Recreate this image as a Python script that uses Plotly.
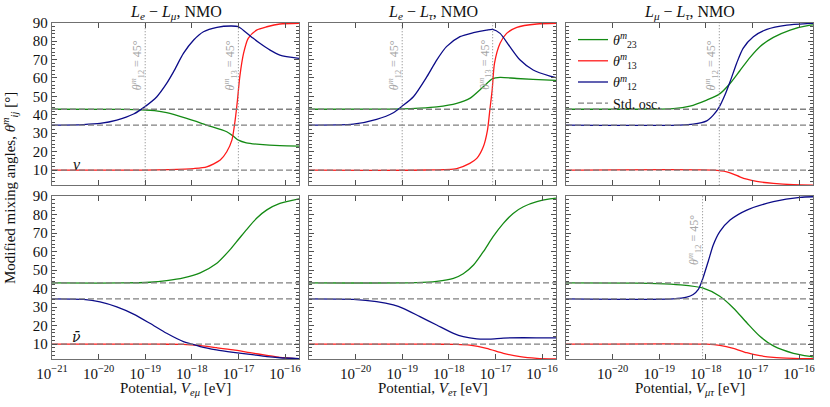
import plotly.graph_objects as go

# ---------------- data (log10 of potential in eV, angles in degrees) ----------------
std_t23 = 43.0
std_t12 = 34.4
std_t13 = 9.9

# top-left: L_e - L_mu, neutrinos
emu_nu_t23_lv = [-21, -19.5, -19.0, -18.8, -18.54, -18.11, -17.68, -17.25, -17.1, -17.0, -16.83, -16.54, -16.11, -15.7]
emu_nu_t23 = [43.0, 42.9, 42.6, 42.2, 41.1, 38.0, 34.4, 30.8, 28.2, 26.2, 24.8, 23.9, 23.2, 23.0]
emu_nu_t13_lv = [-21, -19.0, -18.5, -17.96, -17.68, -17.39, -17.25, -17.14, -17.07, -17.02, -16.97, -16.89, -16.79, -16.61, -16.39, -16.11, -15.7]
emu_nu_t13 = [9.9, 9.9, 10.2, 10.8, 11.7, 15.4, 19.9, 26.2, 37.1, 48.0, 60.7, 73.3, 81.5, 86.0, 87.8, 89.3, 89.7]
emu_nu_t12_lv = [-21, -20.33, -19.97, -19.61, -19.25, -18.99, -18.75, -18.54, -18.39, -18.18, -17.96, -17.75, -17.46, -17.15, -17.0, -16.85, -16.68, -16.54, -16.32, -16.11, -15.7]
emu_nu_t12 = [34.4, 34.7, 35.3, 37.1, 40.4, 44.7, 49.8, 57.0, 63.4, 73.3, 80.6, 85.1, 87.5, 88.2, 87.8, 85.0, 81.5, 78.8, 75.1, 72.4, 70.6]

# top-middle: L_e - L_tau, neutrinos
etau_nu_t23_lv = [-21, -19.0, -18.62, -18.26, -17.83, -17.55, -17.26, -17.06, -16.9, -16.54, -15.83, -15.7]
etau_nu_t23 = [43.0, 43.2, 43.6, 44.3, 46.2, 48.9, 55.2, 59.6, 60.3, 59.7, 58.8, 58.7]
etau_nu_t13_lv = [-21, -18.5, -17.83, -17.55, -17.4, -17.26, -17.17, -17.12, -17.07, -17.02, -16.9, -16.76, -16.54, -16.11, -15.7]
etau_nu_t13 = [9.9, 10.0, 10.8, 13.6, 16.3, 22.6, 31.7, 42.5, 53.4, 67.9, 78.8, 84.2, 87.5, 89.3, 89.7]
etau_nu_t12_lv = [-21, -20.05, -19.55, -19.19, -19.0, -18.76, -18.47, -18.26, -18.05, -17.76, -17.47, -17.19, -17.06, -16.9, -16.69, -16.47, -16.19, -15.83, -15.7]
etau_nu_t12 = [34.4, 34.9, 37.5, 41.1, 44.7, 49.8, 60.7, 69.7, 77.0, 82.4, 84.6, 86.0, 86.4, 84.2, 77.0, 69.7, 64.3, 61.0, 60.2]

# top-right: L_mu - L_tau, neutrinos
mutau_nu_t23_lv = [-21, -19.41, -18.70, -18.34, -17.98, -17.71, -17.48, -17.27, -17.05, -16.84, -16.55, -16.19, -15.76, -15.7]
mutau_nu_t23 = [43.0, 43.0, 43.3, 44.7, 48.0, 51.2, 57.0, 63.9, 71.2, 77.0, 82.0, 86.0, 88.7, 88.8]
mutau_nu_t13_lv = [-21, -17.84, -17.55, -17.41, -17.27, -17.12, -16.91, -16.55, -16.12, -15.7]
mutau_nu_t13 = [9.9, 9.9, 9.0, 7.8, 6.3, 5.0, 3.8, 2.7, 2.0, 1.8]
mutau_nu_t12_lv = [-21, -18.56, -18.27, -17.98, -17.84, -17.71, -17.59, -17.48, -17.34, -17.2, -16.98, -16.69, -16.26, -15.76, -15.7]
mutau_nu_t12 = [34.4, 34.4, 34.9, 36.7, 39.8, 44.3, 50.7, 57.9, 67.9, 76.1, 82.4, 86.4, 88.7, 89.6, 89.7]

# bottom-left: L_e - L_mu, antineutrinos
emu_nubar_t23_lv = [-21, -19.5, -18.9, -18.54, -18.18, -17.82, -17.47, -17.18, -17.0, -16.82, -16.61, -16.39, -16.11, -15.7]
emu_nubar_t23 = [43.0, 43.0, 43.4, 44.3, 45.8, 48.5, 53.5, 61.0, 66.5, 72.0, 78.0, 82.5, 86.0, 88.5]
emu_nubar_t13_lv = [-21, -18.7, -18.18, -17.82, -17.47, -17.11, -16.75, -16.39, -16.11, -15.7]
emu_nubar_t13 = [9.9, 9.9, 9.8, 9.1, 8.0, 6.8, 5.3, 3.9, 2.8, 2.0]
emu_nubar_t12_lv = [-21, -20.33, -19.97, -19.61, -19.25, -18.9, -18.54, -18.18, -18.0, -17.82, -17.47, -17.11, -16.75, -16.39, -16.11, -15.7]
emu_nubar_t12 = [34.4, 34.1, 32.8, 30.1, 26.2, 21.2, 15.8, 11.3, 10.0, 8.6, 6.8, 5.5, 4.4, 3.2, 2.6, 2.1]

# bottom-middle: L_e - L_tau, antineutrinos
etau_nubar_t23_lv = [-21, -18.7, -18.26, -17.9, -17.69, -17.47, -17.26, -17.05, -16.83, -16.62, -16.4, -16.11, -15.83, -15.7]
etau_nubar_t23 = [43.0, 43.2, 43.9, 45.5, 48.0, 52.7, 59.9, 68.0, 75.2, 80.6, 84.2, 86.9, 88.4, 88.8]
etau_nubar_t13_lv = [-21, -18.3, -17.83, -17.55, -17.19, -16.83, -16.47, -16.11, -15.7]
etau_nubar_t13 = [9.9, 9.9, 9.8, 9.4, 7.7, 5.0, 3.2, 2.3, 1.9]
etau_nubar_t12_lv = [-21, -20.05, -19.55, -19.19, -18.98, -18.62, -18.26, -17.9, -17.69, -17.4, -17.12, -16.83, -16.4, -15.83, -15.7]
etau_nubar_t12 = [34.4, 34.1, 32.9, 31.1, 29.3, 24.8, 20.3, 15.8, 14.0, 12.8, 12.7, 13.2, 13.4, 13.3, 13.3]

# bottom-right: L_mu - L_tau, antineutrinos
mutau_nubar_t23_lv = [-21, -19.5, -19.05, -18.55, -18.07, -17.7, -17.41, -17.12, -16.84, -16.55, -16.12, -15.76, -15.7]
mutau_nubar_t23 = [43.0, 42.9, 42.7, 42.0, 40.3, 35.8, 29.5, 21.5, 14.2, 9.0, 5.0, 3.3, 3.1]
mutau_nubar_t13_lv = [-21, -17.98, -17.7, -17.41, -17.12, -16.84, -16.55, -16.12, -15.7]
mutau_nubar_t13 = [9.9, 9.9, 9.3, 7.7, 5.3, 3.7, 2.8, 2.3, 2.1]
mutau_nubar_t12_lv = [-21, -18.7, -18.41, -18.27, -18.16, -18.07, -17.95, -17.84, -17.7, -17.48, -17.12, -16.55, -15.98, -15.7]
mutau_nubar_t12 = [34.4, 34.4, 35.3, 36.8, 39.5, 45.0, 54.5, 63.5, 70.7, 77.0, 82.4, 86.9, 89.3, 89.6]

# potentials where a mixing angle reaches 45 degrees (log10 eV)
emu_nu_45_lv = [-19.0, -17.0]
emu_nu_45_lab = ["12", "13"]
etau_nu_45_lv = [-19.0, -17.06]
etau_nu_45_lab = ["12", "13"]
mutau_nu_45_lv = [-17.71]
mutau_nu_45_lab = ["12"]
mutau_nubar_45_lv = [-18.07]
mutau_nubar_45_lab = ["12"]

panel_titles = ["<i>L<sub>e</sub></i> − <i>L<sub>μ</sub></i>, NMO",
                "<i>L<sub>e</sub></i> − <i>L<sub>τ</sub></i>, NMO",
                "<i>L<sub>μ</sub></i> − <i>L<sub>τ</sub></i>, NMO"]
x_titles = ["Potential, <i>V<sub>eμ</sub></i> [eV]",
            "Potential, <i>V<sub>eτ</sub></i> [eV]",
            "Potential, <i>V<sub>μτ</sub></i> [eV]"]
y_title = "Modified mixing angles, <i>θ</i><sup><i>m</i></sup><sub><i>ij</i></sub> [°]"
x_tick_exp = [-21, -20, -19, -18, -17, -16]
y_tick_vals = [10, 20, 30, 40, 50, 60, 70, 80, 90]
legend_names = ["<i>θ</i><sup><i>m</i></sup><sub>23</sub>",
                "<i>θ</i><sup><i>m</i></sup><sub>13</sub>",
                "<i>θ</i><sup><i>m</i></sup><sub>12</sub>",
                "Std. osc."]

# ---------------- styling ----------------
FONT = "Liberation Serif"
GREEN = "#148a14"
RED = "#ff1a1a"
BLUE = "#0c0c88"
GRAY = "#808080"
X_RANGE = [-21, -15.7]
Y_RANGE = [1.75, 90]
W, H = 830, 407


def px_x(p):
    return p / W


def px_y(p):
    return 1 - p / H


XD = [(px_x(52), px_x(299)), (px_x(309), px_x(556)), (px_x(566), px_x(813))]
YD = [(px_y(185.2), px_y(22.7)), (px_y(359.3), px_y(196))]

panels = [
    (emu_nu_t23_lv, emu_nu_t23, emu_nu_t13_lv, emu_nu_t13, emu_nu_t12_lv, emu_nu_t12, emu_nu_45_lv, emu_nu_45_lab),
    (etau_nu_t23_lv, etau_nu_t23, etau_nu_t13_lv, etau_nu_t13, etau_nu_t12_lv, etau_nu_t12, etau_nu_45_lv, etau_nu_45_lab),
    (mutau_nu_t23_lv, mutau_nu_t23, mutau_nu_t13_lv, mutau_nu_t13, mutau_nu_t12_lv, mutau_nu_t12, mutau_nu_45_lv, mutau_nu_45_lab),
    (emu_nubar_t23_lv, emu_nubar_t23, emu_nubar_t13_lv, emu_nubar_t13, emu_nubar_t12_lv, emu_nubar_t12, [], []),
    (etau_nubar_t23_lv, etau_nubar_t23, etau_nubar_t13_lv, etau_nubar_t13, etau_nubar_t12_lv, etau_nubar_t12, [], []),
    (mutau_nubar_t23_lv, mutau_nubar_t23, mutau_nubar_t13_lv, mutau_nubar_t13, mutau_nubar_t12_lv, mutau_nubar_t12, mutau_nubar_45_lv, mutau_nubar_45_lab),
]

fig = go.Figure()
annotations = []
layout = {}

for i, (l23, v23, l13, v13, l12, v12, l45, lab45) in enumerate(panels):
    n = i + 1
    xa = "x" if n == 1 else f"x{n}"
    ya = "y" if n == 1 else f"y{n}"
    show_leg = (n == 3)
    for lv, vals, col, name in [(l23, v23, GREEN, legend_names[0]),
                                (l13, v13, RED, legend_names[1]),
                                (l12, v12, BLUE, legend_names[2])]:
        fig.add_trace(go.Scatter(
            x=[10 ** v for v in lv], y=vals, mode="lines", xaxis=xa, yaxis=ya,
            line=dict(color=col, width=1.3, shape="spline", smoothing=0.7),
            name=name, showlegend=show_leg, hoverinfo="skip"))
    for k, sv in enumerate([std_t23, std_t12, std_t13]):
        fig.add_trace(go.Scatter(
            x=[10 ** X_RANGE[0], 10 ** X_RANGE[1]], y=[sv, sv], mode="lines",
            xaxis=xa, yaxis=ya, line=dict(color=GRAY, width=1.3, dash="6px,3px"),
            name=legend_names[3], showlegend=(show_leg and k == 0), hoverinfo="skip"))
    for v, lab in zip(l45, lab45):
        fig.add_trace(go.Scatter(
            x=[10 ** v, 10 ** v], y=Y_RANGE, mode="lines", xaxis=xa, yaxis=ya,
            line=dict(color="#8c8c8c", width=1.1, dash="1px,2px"),
            showlegend=False, hoverinfo="skip"))
        annotations.append(dict(
            x=v, y=67 if n <= 3 else 66, xref=xa, yref=ya, xshift=-8,
            xanchor="center", yanchor="middle",
            text=f"<i>θ</i><sup><i>m</i></sup><sub>{lab}</sub> = 45°",
            textangle=-90, showarrow=False,
            font=dict(family=FONT, size=12, color="#a6a6a6")))

    row = 0 if n <= 3 else 1
    col = (n - 1) % 3
    bottom = row == 1
    if bottom:
        exps = x_tick_exp if col == 0 else x_tick_exp[1:]
    else:
        exps = x_tick_exp
    layout["xaxis" if n == 1 else f"xaxis{n}"] = dict(
        type="log", range=X_RANGE, domain=list(XD[col]), anchor=ya, automargin=False,
        showgrid=False, zeroline=False, showline=True, linecolor="#707070", linewidth=1.4,
        mirror="allticks", ticks="inside", ticklen=5, tickwidth=1, tickcolor="#505050",
        tickvals=[10 ** e for e in exps],
        ticktext=[f"10<sup>−{abs(e)}</sup>" for e in exps],
        showticklabels=bottom, tickfont=dict(family=FONT, size=15, color="#111"))
    layout["yaxis" if n == 1 else f"yaxis{n}"] = dict(
        range=Y_RANGE, domain=list(YD[row]), anchor=xa, automargin=False,
        showgrid=False, zeroline=False, showline=True, linecolor="#707070", linewidth=1.4,
        mirror="allticks", ticks="inside", ticklen=5, tickwidth=1, tickcolor="#505050",
        tickvals=y_tick_vals, showticklabels=(col == 0),
        minor=dict(dtick=2, ticks="inside", ticklen=2.5, tickcolor="#505050", showgrid=False),
        tickfont=dict(family=FONT, size=15, color="#111"))

for c in range(3):
    cx = (XD[c][0] + XD[c][1]) / 2
    annotations.append(dict(x=cx, y=px_y(12), xref="paper", yref="paper", text=panel_titles[c],
                            xanchor="center", yanchor="middle",
                            showarrow=False, font=dict(family=FONT, size=16, color="#111")))
    annotations.append(dict(x=cx, y=px_y(389), xref="paper", yref="paper", text=x_titles[c],
                            xanchor="center", yanchor="middle",
                            showarrow=False, font=dict(family=FONT, size=15, color="#111")))

annotations.append(dict(x=px_x(10), y=px_y(188), xref="paper", yref="paper", text=y_title,
                        xanchor="center", yanchor="middle",
                        textangle=-90, showarrow=False, font=dict(family=FONT, size=15, color="#111")))
annotations.append(dict(x=-20.47, y=13, xref="x", yref="y", text="<i>ν</i>", showarrow=False,
                        xanchor="center", yanchor="middle",
                        font=dict(family=FONT, size=16, color="#111")))
annotations.append(dict(x=-20.47, y=13.6, xref="x4", yref="y4", text="<i>ν\u0304</i>", showarrow=False,
                        xanchor="center", yanchor="middle",
                        font=dict(family="DejaVu Serif", size=14, color="#111")))

fig.update_layout(
    template="none",
    width=W, height=H, margin=dict(l=0, r=0, t=0, b=0, autoexpand=False),
    paper_bgcolor="white", plot_bgcolor="white",
    annotations=annotations,
    legend=dict(x=px_x(573), y=px_y(24), xanchor="left", yanchor="top", bgcolor="rgba(0,0,0,0)",
                font=dict(family=FONT, size=14, color="#111"), itemwidth=30, tracegroupgap=0),
    **layout)

fig.write_html("out.html", config={"displayModeBar": False},
               post_script="document.body.style.margin='0px';")
